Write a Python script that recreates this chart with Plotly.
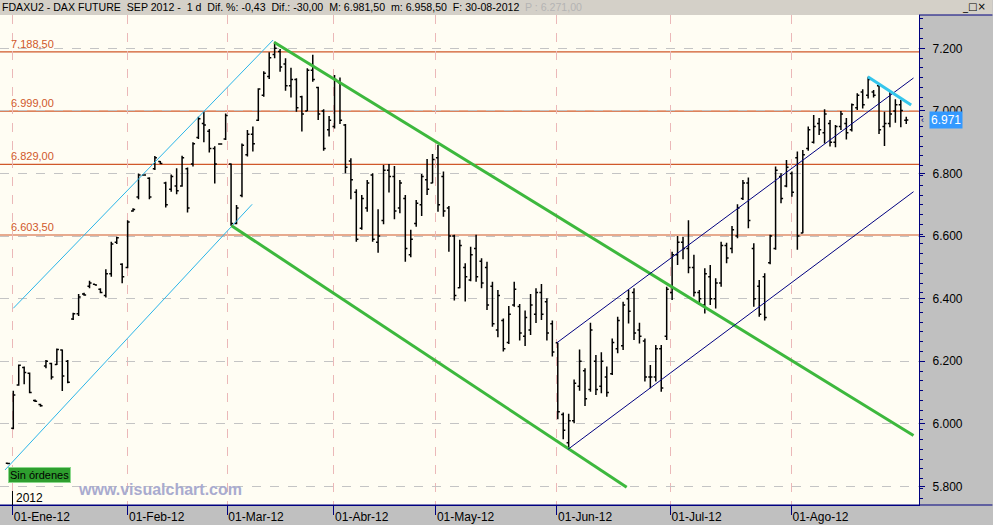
import plotly.graph_objects as go

# ---------------- data ----------------
bar_high = [5876, 6106, 6190, 6183, 6164, 6078, 6064, 6204, 6195, 6241, 6238,
            6204, 6355, 6415, 6419, 6457, 6447, 6433, 6494, 6582, 6598,
            6513, 6651, 6689, 6800, 6797, 6788, 6856, 6840, 6774, 6797,
            6817, 6857, 6819, 6900, 6981, 6997, 6942, 6887, 6896, 6992,
            6832, 6699, 6896, 6939, 6950, 7072, 7127, 7187, 7221, 7198,
            7168, 7138, 7104, 7048, 7136, 7179, 7077, 7005, 6984, 7115,
            7107, 6958, 6849, 6750, 6731, 6779, 6801, 6686, 6827, 6830,
            6824, 6779, 6731, 6620, 6715, 6798, 6846, 6862, 6891, 6806,
            6696, 6604, 6588, 6513, 6566, 6604, 6529, 6518, 6454, 6428,
            6337, 6377, 6454, 6383, 6362, 6415, 6433, 6447, 6401, 6330,
            6259, 6036, 6032, 6142, 6238, 6178, 6323, 6220, 6229, 6183,
            6273, 6342, 6390, 6428, 6433, 6323, 6273, 6188, 6252, 6252,
            6438, 6550, 6600, 6598, 6651, 6540, 6428, 6497, 6508, 6465,
            6582, 6579, 6632, 6702, 6779, 6787, 6577, 6460, 6481, 6604,
            6822, 6801, 6843, 6806, 6870, 6875, 6950, 6987, 6977, 7005,
            6971, 6955, 7000, 6977, 7024, 7056, 7069, 7109, 7067, 7086,
            6997, 7061, 7037, 7035, 6981.5]
bar_low = [5871, 5983, 6122, 6127, 6098, 6070, 6055, 6178, 6142, 6188, 6105,
           6130, 6332, 6345, 6409, 6433, 6443, 6417, 6404, 6470, 6575,
           6449, 6497, 6678, 6718, 6793, 6718, 6811, 6830, 6691, 6742,
           6734, 6758, 6675, 6822, 6910, 6900, 6867, 6768, 6892, 6907,
           6633, 6638, 6724, 6854, 6870, 6968, 7045, 7102, 7168, 7125,
           7064, 7043, 6997, 6934, 7000, 7093, 6971, 6873, 6918, 6944,
           6958, 6801, 6718, 6582, 6620, 6678, 6582, 6547, 6638, 6739,
           6654, 6673, 6518, 6532, 6630, 6664, 6731, 6769, 6678, 6662,
           6550, 6394, 6433, 6391, 6456, 6454, 6433, 6364, 6310, 6277,
           6231, 6255, 6374, 6266, 6249, 6284, 6322, 6332, 6266, 6215,
           6015, 5951, 5917, 6002, 6106, 6057, 6103, 6092, 6098, 6087,
           6156, 6226, 6236, 6321, 6268, 6257, 6135, 6114, 6135, 6103,
           6268, 6396, 6508, 6526, 6481, 6407, 6380, 6353, 6380, 6369,
           6438, 6513, 6545, 6593, 6715, 6625, 6374, 6342, 6330, 6510,
           6556, 6705, 6756, 6726, 6556, 6609, 6873, 6896, 6923, 6896,
           6886, 6884, 6939, 6909, 6934, 7003, 7008, 7040, 7043, 6926,
           6888, 6948, 6962, 6948, 6958.5]
bar_open = [5874, 5986, 6124, 6180, 6162, 6075, 6062, 6185, 6193, 6190, 6236,
            6200, 6335, 6352, 6415, 6440, 6446, 6430, 6410, 6480, 6580,
            6510, 6500, 6680, 6725, 6795, 6785, 6815, 6838, 6770, 6750,
            6760, 6760, 6815, 6830, 6915, 6960, 6935, 6880, 6894, 6910,
            6830, 6640, 6730, 6860, 6925, 6970, 7050, 7110, 7180, 7190,
            7150, 7080, 7100, 7045, 7000, 7130, 7075, 7000, 6940, 6950,
            7090, 6955, 6840, 6740, 6625, 6690, 6795, 6580, 6650, 6810,
            6790, 6690, 6720, 6540, 6640, 6700, 6780, 6770, 6850, 6790,
            6690, 6600, 6435, 6500, 6460, 6560, 6520, 6500, 6440, 6300,
            6330, 6260, 6380, 6375, 6280, 6300, 6350, 6420, 6390, 6320,
            6259, 6030, 5940, 6010, 6120, 6170, 6110, 6200, 6120, 6150,
            6160, 6240, 6250, 6400, 6420, 6300, 6265, 6150, 6150, 6240,
            6280, 6420, 6540, 6580, 6560, 6500, 6420, 6380, 6470, 6400,
            6450, 6570, 6560, 6600, 6720, 6770, 6560, 6440, 6470, 6515,
            6560, 6790, 6760, 6800, 6850, 6610, 6880, 6900, 6960, 6930,
            6960, 6900, 6950, 6960, 6940, 7010, 7060, 7050, 7060, 7080,
            6950, 6960, 7000, 7020, 6970]
bar_close = [5873, 6092, 6187, 6164, 6100, 6072, 6058, 6200, 6150, 6238, 6153,
             6133, 6352, 6405, 6412, 6450, 6444, 6420, 6480, 6575, 6595,
             6470, 6645, 6685, 6795, 6795, 6725, 6850, 6832, 6700, 6790,
             6745, 6850, 6690, 6895, 6975, 6955, 6880, 6830, 6894, 6985,
             6640, 6690, 6890, 6925, 6895, 7070, 7120, 7170, 7200, 7140,
             7080, 7100, 7010, 6990, 7130, 7100, 6990, 6880, 6970, 7100,
             6970, 6820, 6780, 6590, 6720, 6770, 6590, 6600, 6810, 6790,
             6680, 6770, 6560, 6590, 6705, 6790, 6750, 6845, 6700, 6680,
             6600, 6410, 6570, 6470, 6540, 6470, 6450, 6380, 6320, 6410,
             6240, 6350, 6430, 6290, 6340, 6380, 6420, 6350, 6290, 6230,
             6039, 5980, 6010, 6130, 6200, 6080, 6300, 6110, 6200, 6100,
             6260, 6330, 6380, 6360, 6290, 6280, 6150, 6150, 6240, 6115,
             6430, 6540, 6580, 6560, 6500, 6420, 6400, 6480, 6400, 6450,
             6570, 6530, 6620, 6690, 6770, 6650, 6400, 6350, 6340, 6600,
             6810, 6720, 6820, 6740, 6600, 6860, 6940, 6950, 6940, 6990,
             6900, 6950, 6990, 6930, 7020, 7050, 7020, 7100, 7050, 6940,
             6960, 6990, 7020, 7001, 6971]

month_labels = ["01-Ene-12", "01-Feb-12", "01-Mar-12", "01-Abr-12",
                "01-May-12", "01-Jun-12", "01-Jul-12", "01-Ago-12"]
month_start_bar = [0.9, 22.05, 40.3, 59.9, 78.6, 100.85, 121.7, 143.9]

level_values = [7188.50, 6999.00, 6829.00, 6603.50]
level_labels = ["7.188,50", "6.999,00", "6.829,00", "6.603,50"]

# trend lines: (bar index, price) pairs
lightblue_upper = [(1.0, 6369.3), (48.72, 7226.5)]
lightblue_lower = [(-0.52, 5852.7), (44.87, 6701.6)]
green_upper = [(48.91, 7219.2), (166.33, 5962.9)]
green_lower = [(41.09, 6633.3), (113.65, 5797.4)]
navy_upper = [(100.85, 6259.4), (166.33, 7105.1)]
navy_lower = [(102.87, 5918.6), (166.33, 6741.8)]
cyan_short = [(157.94, 7109.3), (165.9, 7018.8)]

last_price = 6971
header_text = ("FDAXU2 - DAX FUTURE  SEP 2012 -  1 d  Dif. %: -0,43  Dif.: -30,00  "
               "M: 6.981,50  m: 6.958,50  F: 30-08-2012")

# ---------------- figure ----------------
W, H = 993, 525
ML, MR, MT, MB = 0, 73.5, 15, 20
PW = W - ML - MR
PH = H - MT - MB

def px(x):   # page pixel -> paper x
    return (x - ML) / PW

def py(y):   # page pixel -> paper y
    return (H - MB - y) / PH

bars = list(range(len(bar_high)))
FONT = "Liberation Sans, Arial, sans-serif"
NAVY = "#000080"
ORANGE = "#D0582A"

fig = go.Figure()
fig.add_trace(go.Ohlc(
    x=bars, open=bar_open, high=bar_high, low=bar_low, close=bar_close,
    increasing=dict(line=dict(color="black", width=1.5)),
    decreasing=dict(line=dict(color="black", width=1.5)),
    tickwidth=0.38, hoverinfo="skip", showlegend=False))

shapes = []
# header band
shapes.append(dict(type="rect", xref="paper", yref="paper", x0=px(0), x1=px(W),
                   y0=py(MT), y1=py(0), fillcolor="#D4D0C8", line=dict(width=0), layer="above"))
# right panel top border & bottom axis line extension
shapes.append(dict(type="line", xref="paper", yref="paper", x0=1, x1=px(W),
                   y0=py(MT), y1=py(MT), line=dict(color=NAVY, width=1)))
shapes.append(dict(type="line", xref="paper", yref="paper", x0=0, x1=px(W),
                   y0=0, y1=0, line=dict(color=NAVY, width=1.2)))
# "2012" marker line
shapes.append(dict(type="line", xref="paper", yref="paper", x0=px(12.5), x1=px(12.5),
                   y0=py(491), y1=0, line=dict(color="black", width=1)))
# support/resistance levels
for v in level_values:
    shapes.append(dict(type="line", xref="paper", yref="y", x0=0, x1=1, y0=v, y1=v,
                       line=dict(color=ORANGE, width=1.2), layer="below"))
# trend lines
for pts, col, w in [(lightblue_upper, "#2BB5E8", 1), (lightblue_lower, "#2BB5E8", 1),
                    (green_upper, "#3DB83D", 3), (green_lower, "#3DB83D", 3),
                    (navy_upper, NAVY, 1), (navy_lower, NAVY, 1),
                    (cyan_short, "#35C6EC", 3)]:
    (x0, y0), (x1, y1) = pts
    shapes.append(dict(type="line", xref="x", yref="y", x0=x0, y0=y0, x1=x1, y1=y1,
                       line=dict(color=col, width=w)))

annotations = []
for v, t in zip(level_values, level_labels):
    annotations.append(dict(xref="paper", yref="y", x=px(9), y=v, text=t,
                            showarrow=False, xanchor="left", yanchor="bottom", yshift=0,
                            font=dict(family=FONT, size=11, color=ORANGE)))
annotations.append(dict(xref="paper", yref="paper", x=px(0), y=py(7.5), text=header_text,
                        showarrow=False, xanchor="left", yanchor="middle",
                        font=dict(family=FONT, size=10.6, color="black")))
annotations.append(dict(xref="paper", yref="paper", x=px(523), y=py(7.5), text="P : 6.271,00",
                        showarrow=False, xanchor="left", yanchor="middle",
                        font=dict(family=FONT, size=10.6, color="#B4B4B4")))
annotations.append(dict(xref="paper", yref="paper", x=px(989), y=py(7), text="_□×",
                        showarrow=False, xanchor="right", yanchor="middle",
                        font=dict(family="DejaVu Sans", size=10, color="black")))
annotations.append(dict(xref="paper", yref="paper", x=px(39.6), y=py(474.5), text="Sin órdenes",
                        showarrow=False, xanchor="center", yanchor="middle",
                        bgcolor="#2E9E2E", bordercolor="#8CD88C", borderwidth=1, borderpad=1,
                        font=dict(family=FONT, size=11, color="black")))
annotations.append(dict(xref="paper", yref="paper", x=px(14), y=py(497.5), text="2012",
                        showarrow=False, xanchor="left", yanchor="middle",
                        font=dict(family=FONT, size=12, color="black")))
annotations.append(dict(xref="paper", yref="paper", x=px(160), y=py(489.3), text="<b>www.visualchart.com</b>",
                        showarrow=False, xanchor="center", yanchor="middle",
                        font=dict(family=FONT, size=16, color="#A9ABCF")))
annotations.append(dict(xref="paper", yref="y", x=px(930), y=last_price, text="6.971",
                        showarrow=False, xanchor="left", yanchor="middle",
                        bgcolor="#3399FF", borderpad=1,
                        font=dict(family=FONT, size=12, color="white")))
annotations.append(dict(xref="paper", yref="y", x=px(919), y=last_price, text="‹",
                        showarrow=False, xanchor="left", yanchor="middle",
                        font=dict(family=FONT, size=9, color=NAVY)))

fig.update_layout(
    width=W, height=H,
    margin=dict(l=ML, r=MR, t=MT, b=MB, pad=0, autoexpand=False),
    paper_bgcolor="#C0C0C0", plot_bgcolor="#FFFDF3",
    separators=",.",
    showlegend=False,
    shapes=shapes, annotations=annotations,
    xaxis=dict(range=[-1.44, 167.34], rangeslider=dict(visible=False),
               automargin=False,
               tickmode="array", tickvals=month_start_bar, ticktext=month_labels,
               ticks="outside", ticklen=9, tickcolor=NAVY, tickwidth=1,
               ticklabelposition="outside right",
               showline=True, linecolor=NAVY, linewidth=1.2,
               showgrid=True, gridcolor="#EBB8B8", griddash="dash", gridwidth=1,
               zeroline=False, fixedrange=True,
               tickfont=dict(family=FONT, size=12, color="black")),
    yaxis=dict(range=[5740.8, 7306.4], side="right", automargin=False,
               tick0=0, dtick=200, tickformat=",.0f",
               ticks="outside", ticklen=5, tickcolor=NAVY, tickwidth=1,
               ticklabelstandoff=5,
               minor=dict(ticks="outside", ticklen=3, dtick=31.25, tick0=7200,
                          tickcolor=NAVY, showgrid=False),
               showline=True, linecolor=NAVY, linewidth=1.2,
               showgrid=True, gridcolor="#C4C4C4", griddash="dash", gridwidth=1,
               zeroline=False, fixedrange=True,
               tickfont=dict(family=FONT, size=12, color="black")),
)

fig.write_html("out.html", config={"displayModeBar": False},
               post_script="document.body.style.margin='0';document.body.style.overflow='hidden';")
